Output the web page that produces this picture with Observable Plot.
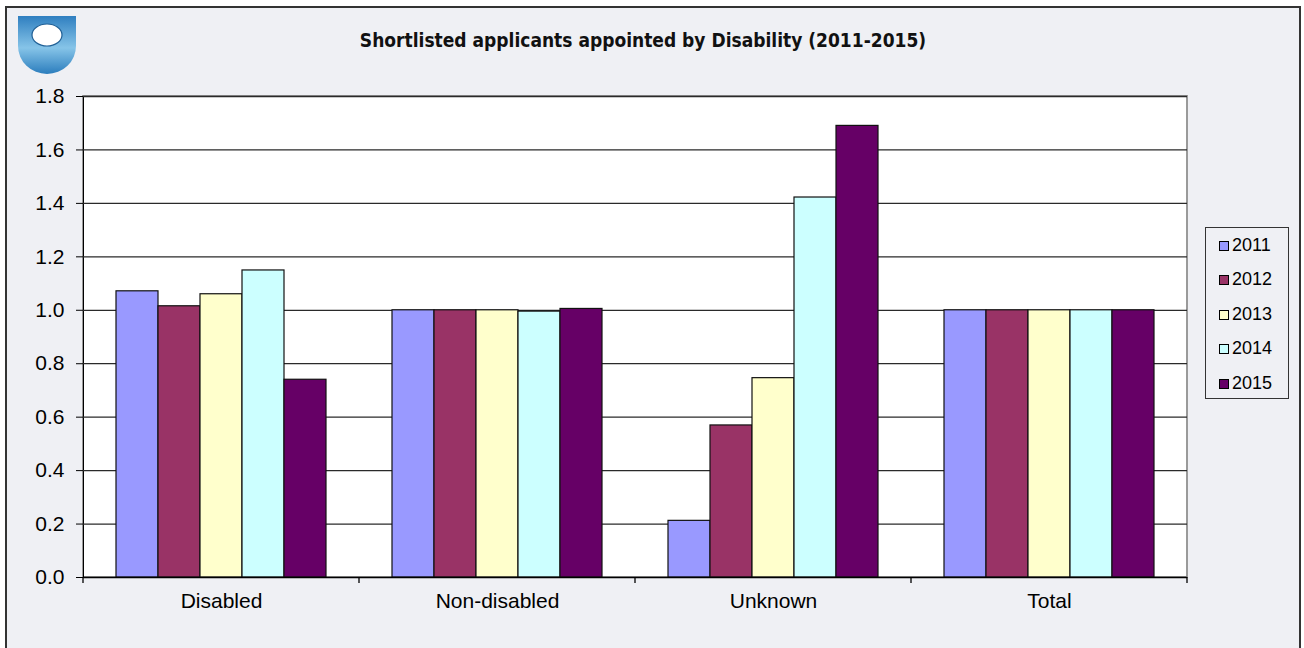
<!DOCTYPE html>
<html>
<head>
<meta charset="utf-8">
<script src="https://cdn.jsdelivr.net/npm/d3@7"></script>
<script src="https://cdn.jsdelivr.net/npm/@observablehq/plot@0.6"></script>
<style>
  html, body { margin: 0; padding: 0; background: #ffffff; width: 1304px; height: 648px; overflow: hidden; }
  #frame { position: absolute; left: 5px; top: 6px; width: 1296px; height: 700px; box-sizing: border-box;
           background: #eff0f4; border: 2px solid #333; }
  #chart { position: absolute; left: 0; top: 0; }
  #chart svg text { font-size: 21px; font-family: "Liberation Sans", Arial, sans-serif; fill: #000; }
  #title { position: absolute; left: 0; width: 1286px; top: 29px; text-align: center;
           font-family: "Liberation Sans Narrow", "DejaVu Sans Condensed", Arial, sans-serif; font-weight: bold;
           font-size: 19px; color: #111; }
  #logo { position: absolute; left: 15px; top: 14px; }
  #legend { position: absolute; left: 1205px; top: 227px; width: 84px; height: 172px; box-sizing: border-box;
            border: 1px solid #333; background: #eff0f4; padding-top: 0px;
            font-family: "Liberation Sans", Arial, sans-serif; font-size: 18px; color: #000; }
  .item { height: 34.5px; display: flex; align-items: center; padding-left: 13px; }
  .sw { width: 8px; height: 8px; border: 1px solid #000; margin-right: 3px; margin-top: 1px; }
</style>
</head>
<body>
<div id="frame"></div>
<svg id="logo" width="64" height="62" viewBox="0 0 64 62">
  <defs>
    <linearGradient id="lg" x1="0" y1="0" x2="0" y2="1">
      <stop offset="0" stop-color="#2f7fc0"/>
      <stop offset="0.55" stop-color="#86c4e8"/>
      <stop offset="1" stop-color="#2b7dbd"/>
    </linearGradient>
  </defs>
  <path d="M3,2 H61 V32 A29,28 0 0 1 3,32 Z" fill="url(#lg)"/>
  <ellipse cx="32" cy="21" rx="15" ry="11" fill="#ffffff" stroke="#1f5f95" stroke-width="1.2"/>
</svg>
<div id="title">Shortlisted applicants appointed by Disability (2011-2015)</div>
<div id="chart"></div>
<div id="legend"></div>
<script>
const categories = ["Disabled", "Non-disabled", "Unknown", "Total"];
const years = ["2011", "2012", "2013", "2014", "2015"];
const colors = ["#9999ff", "#993366", "#ffffcc", "#ccffff", "#660066"];
const disabled = [1.071, 1.015, 1.060, 1.149, 0.740];
const nonDisabled = [1.000, 1.000, 1.000, 0.995, 1.005];
const unknown = [0.212, 0.569, 0.746, 1.422, 1.690];
const total = [1.000, 1.000, 1.000, 1.000, 1.000];
const yTicks = [0, 0.2, 0.4, 0.6, 0.8, 1.0, 1.2, 1.4, 1.6, 1.8];

const series = [disabled, nonDisabled, unknown, total];
const data = categories.flatMap((c, i) => years.map((y, j) => ({category: c, year: y, value: series[i][j]})));

const plot = Plot.plot({
  width: 1304,
  height: 640,
  marginLeft: 82,
  marginRight: 117,
  marginTop: 96,
  marginBottom: 63,
  style: {background: "transparent", fontFamily: "'Liberation Sans', Arial, sans-serif", fontSize: "21px", color: "#000", overflow: "visible"},
  facet: {data, x: "category"},
  fx: {domain: categories, padding: 0, label: null, tickSize: 0, tickPadding: 16, axis: "bottom"},
  x: {domain: years, paddingInner: 0, paddingOuter: 0.758, axis: null},
  y: {domain: [0, 1.8], ticks: yTicks, tickFormat: d3.format(".1f"), tickSize: 7, tickPadding: 12, label: null, line: true},
  color: {domain: years, range: colors},
  marks: [
    Plot.ruleY(yTicks.filter(v => v > 0), {stroke: "#2a2a2a", strokeWidth: 1.3}),
    Plot.barY(data, {x: "year", y: "value", fill: "year", stroke: "#111", strokeWidth: 1.2}),
    Plot.ruleY([0], {stroke: "#000", strokeWidth: 1.3})
  ]
});
document.getElementById("chart").appendChild(plot);

// plot-area background and border, plus category boundary ticks, from the scales
const svg = d3.select(plot);
const ys = plot.scale("y");
const fxs = plot.scale("fx");
const y0 = ys.apply ? ys.apply(0) : 577;
const yTop = ys.apply ? ys.apply(1.8) : 96;
let edges;
if (fxs && fxs.apply) {
  edges = categories.map(c => fxs.apply(c));
  edges.push(fxs.apply(categories[categories.length - 1]) + fxs.bandwidth);
} else {
  const step = (1304 - 82 - 117) / categories.length;
  edges = d3.range(categories.length + 1).map(i => 82 + i * step);
}
svg.insert("rect", ":first-child")
  .attr("x", edges[0]).attr("y", yTop)
  .attr("width", edges[edges.length - 1] - edges[0]).attr("height", y0 - yTop)
  .attr("fill", "#ffffff").attr("stroke", "#9a9a9a").attr("stroke-width", 2);
svg.append("g").selectAll("line").data(edges).join("line")
  .attr("x1", d => d).attr("x2", d => d)
  .attr("y1", y0).attr("y2", y0 + 6)
  .attr("stroke", "#000").attr("stroke-width", 1.3);

// legend
const legend = d3.select("#legend");
years.forEach((y, i) => {
  const it = legend.append("div").attr("class", "item");
  it.append("div").attr("class", "sw").style("background", colors[i]);
  it.append("span").text(y);
});
</script>
</body>
</html>
